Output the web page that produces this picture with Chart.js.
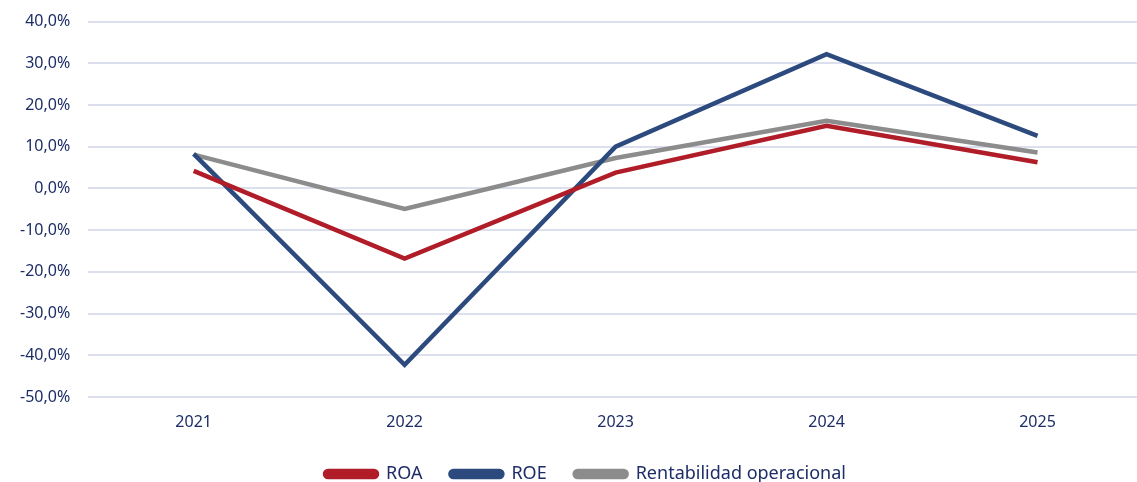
<!DOCTYPE html>
<html>
<head>
<meta charset="utf-8">
<script src="https://cdn.jsdelivr.net/npm/chart.js@4"></script>
<style>
  html, body { margin: 0; padding: 0; background: #fff; overflow: hidden; }
  #wrap { width: 1143px; height: 482px; }
</style>
</head>
<body>
<div id="wrap"><canvas id="rentChart"></canvas></div>
<script>
// Datos
const years = ['2021', '2022', '2023', '2024', '2025'];
const roa = [4.2, -16.8, 3.8, 15.0, 6.3];
const roe = [8.3, -42.3, 10.0, 32.2, 12.6];
const rentOperacional = [8.1, -4.9, 7.3, 16.2, 8.6];

const textColor = '#1d2d66';
const fontFamily = '"Noto Sans", "Open Sans", sans-serif';

// la leyenda necesita mucho espacio horizontal entre items pero poca altura,
// y en el original no está centrada en el lienzo sino algo a la derecha
const legendHeightPlugin = {
    id: 'legendHeight',
    beforeLayout: function (chart) {
        const lg = chart.legend;
        if (lg && !lg._patched) {
            const origFit = lg.fit.bind(lg);
            lg.fit = function () {
                origFit();
                this.height = 45;
            };
            lg._patched = true;
        }
    },
    afterLayout: function (chart) {
        const lg = chart.legend;
        if (lg) {
            lg.left += 10;
            lg.right += 10;
        }
    }
};

const ctx = document.getElementById('rentChart').getContext('2d');

const rentChart = new Chart(ctx, {
    type: 'line',
    data: {
        labels: years,
        datasets: [{
            label: 'ROA',
            data: roa,
            borderColor: '#b01c27',
            backgroundColor: '#b01c27',
            borderWidth: 4.5,
            pointRadius: 0,
            fill: false
        }, {
            label: 'ROE',
            data: roe,
            borderColor: '#2c4a7d',
            backgroundColor: '#2c4a7d',
            borderWidth: 4.5,
            pointRadius: 0,
            fill: false
        }, {
            label: 'Rentabilidad operacional',
            data: rentOperacional,
            borderColor: '#8c8c8c',
            backgroundColor: '#8c8c8c',
            borderWidth: 4.5,
            pointRadius: 0,
            fill: false
        }]
    },
    options: {
        responsive: true,
        maintainAspectRatio: false,
        animation: false,
        layout: { padding: { top: 4, bottom: 0, left: 8, right: 0 } },
        plugins: {
            tooltip: { enabled: false },
            legend: {
                position: 'bottom',
                labels: {
                    color: textColor,
                    font: { family: fontFamily, size: 18 },
                    boxWidth: 52,
                    boxHeight: 6,
                    useBorderRadius: true,
                    borderRadius: 3,
                    padding: 28
                }
            }
        },
        scales: {
            x: {
                offset: true,
                grid: { display: false, drawTicks: false },
                border: { display: false },
                ticks: {
                    color: textColor,
                    font: { family: fontFamily, size: 16 },
                    padding: 16
                },
                afterFit: function (axis) {
                    axis.height = 40;
                }
            },
            y: {
                min: -50,
                max: 40,
                grid: {
                    color: '#dcdfee',
                    lineWidth: 2,
                    drawTicks: true,
                    tickLength: 6,
                    tickColor: 'rgba(0,0,0,0)'
                },
                border: { display: false },
                ticks: {
                    stepSize: 10,
                    color: textColor,
                    font: { family: fontFamily, size: 16 },
                    padding: 12,
                    callback: function (value) {
                        return value.toFixed(1).replace('.', ',') + '%';
                    }
                }
            }
        }
    },
    plugins: [legendHeightPlugin]
});
</script>
</body>
</html>
